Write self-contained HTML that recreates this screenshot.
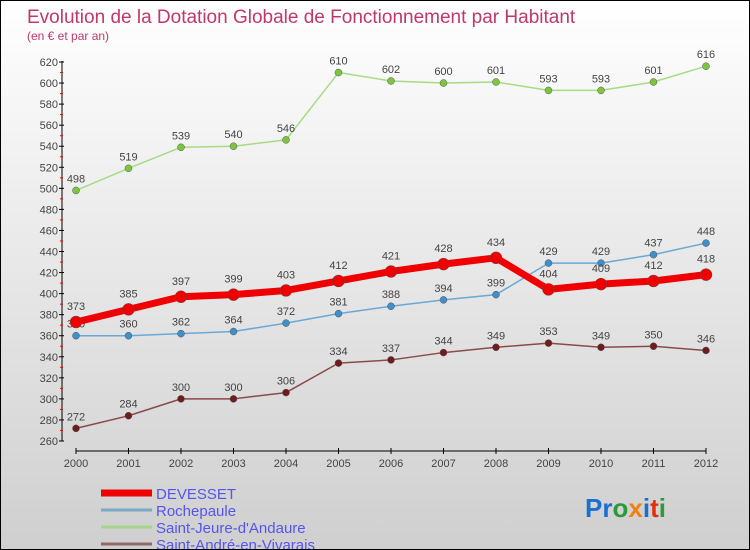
<!DOCTYPE html>
<html><head><meta charset="utf-8"><style>
body{margin:0;}
#c{width:750px;height:550px;position:relative;background:linear-gradient(#ffffff,#cfcfcf);box-sizing:border-box;border:1px solid #000;font-family:"Liberation Sans",sans-serif;overflow:hidden}
svg text{font-family:"Liberation Sans",sans-serif}
</style></head><body>
<div id="c">
<svg id="s" width="750" height="550">
<text x="26" y="22" font-size="19" fill="#c0386a">Evolution de la Dotation Globale de Fonctionnement par Habitant</text>
<text x="26" y="39" font-size="12" fill="#c0386a">(en € et par an)</text>
<g id="axes"></g><g id="series"></g><g id="legend"></g>
<text x="584" y="516" font-size="26" font-weight="bold"><tspan fill="#1a6fd0">Pr</tspan><tspan fill="#2a9a3a">o</tspan><tspan fill="#f08010">x</tspan><tspan fill="#1a6fd0">i</tspan><tspan fill="#e03010">t</tspan><tspan fill="#2a9a3a">i</tspan></text>
</svg></div>
<script>
const years=[2000,2001,2002,2003,2004,2005,2006,2007,2008,2009,2010,2011,2012];
const devesset=[373,385,397,399,403,412,421,428,434,404,409,412,418];
const rochepaule=[360,360,362,364,372,381,388,394,399,429,429,437,448];
const saintJeure=[498,519,539,540,546,610,602,600,601,593,593,601,616];
const saintAndre=[272,284,300,300,306,334,337,344,349,353,349,350,346];
const yTicks=[260,280,300,320,340,360,380,400,420,440,460,480,500,520,540,560,580,600,620];
const NS="http://www.w3.org/2000/svg";
function X(i){return 75+i*52.5;}
function Y(v){return 440-(v-260)*379/360;}
function mk(t,a,p){const e=document.createElementNS(NS,t);for(const k in a)e.setAttribute(k,a[k]);p.appendChild(e);return e;}
const ax=document.getElementById('axes');
let yl=mk('line',{x1:61,y1:60,x2:61,y2:440,stroke:'#000'},ax);


let xl=mk('line',{x1:75,y1:450,x2:705,y2:450,stroke:'#000'},ax);


yTicks.forEach((v,i)=>{
 mk('line',{x1:58,y1:Y(v),x2:63,y2:Y(v),stroke:'#000'},ax);
 if(i<yTicks.length-1)mk('line',{x1:59,y1:Y(v+10),x2:62,y2:Y(v+10),stroke:'#f00'},ax);
 const t=mk('text',{x:57,y:Y(v)+4,'font-size':11,'text-anchor':'end',fill:'#444'},ax);t.textContent=v;
 
 
});
years.forEach((y,i)=>{
 mk('line',{x1:X(i),y1:447,x2:X(i),y2:453,stroke:'#000'},ax);
 const t=mk('text',{x:X(i),y:466,'font-size':11,'text-anchor':'middle',fill:'#444'},ax);t.textContent=y;
 
 
});
const sg=document.getElementById('series');
function draw(vals,color,w,r,dot,name,lblOff){
 const g=mk('g',{},sg);
 
 
 const pl=mk('polyline',{points:vals.map((v,i)=>X(i)+','+Y(v)).join(' '),fill:'none',stroke:color,'stroke-width':w,'stroke-linejoin':'round'},g);
 
 
 vals.forEach((v,i)=>{
  const c=mk('circle',{cx:X(i),cy:Y(v),r:r,fill:dot,stroke:'#555','stroke-width':0.5},g);
  
  
  const t=mk('text',{x:X(i),y:Y(v)-lblOff,'font-size':11,'text-anchor':'middle',fill:'#444'},g);t.textContent=v;
  
  
 });
}
draw(saintJeure,'#a6dc84',1.5,3.5,'#7cc63e','saint-jeure',8);
draw(rochepaule,'#6aa8d6',1.5,3.5,'#3f8fcb','rochepaule',8);
draw(saintAndre,'#8a4a4a',1.5,3.5,'#6e1c1c','saint-andre',8);
draw(devesset,'#f00000',7,6,'#f00000','devesset',12);
const lg=document.getElementById('legend');
const items=[['DEVESSET','#f00000',7],['Rochepaule','#7aa8c8',3],['Saint-Jeure-d\'Andaure','#a6d68c',3],['Saint-André-en-Vivarais','#906868',3]];
items.forEach((it,i)=>{
 const y=492+i*17;
 const g=mk('g',{},lg);
 
 
 mk('line',{x1:100,y1:y,x2:151,y2:y,stroke:it[1],'stroke-width':it[2]},g);
 const t=mk('text',{x:155,y:y+6,'font-size':15,fill:'#5555ee'},g);t.textContent=it[0];
});
</script>
</body></html>
